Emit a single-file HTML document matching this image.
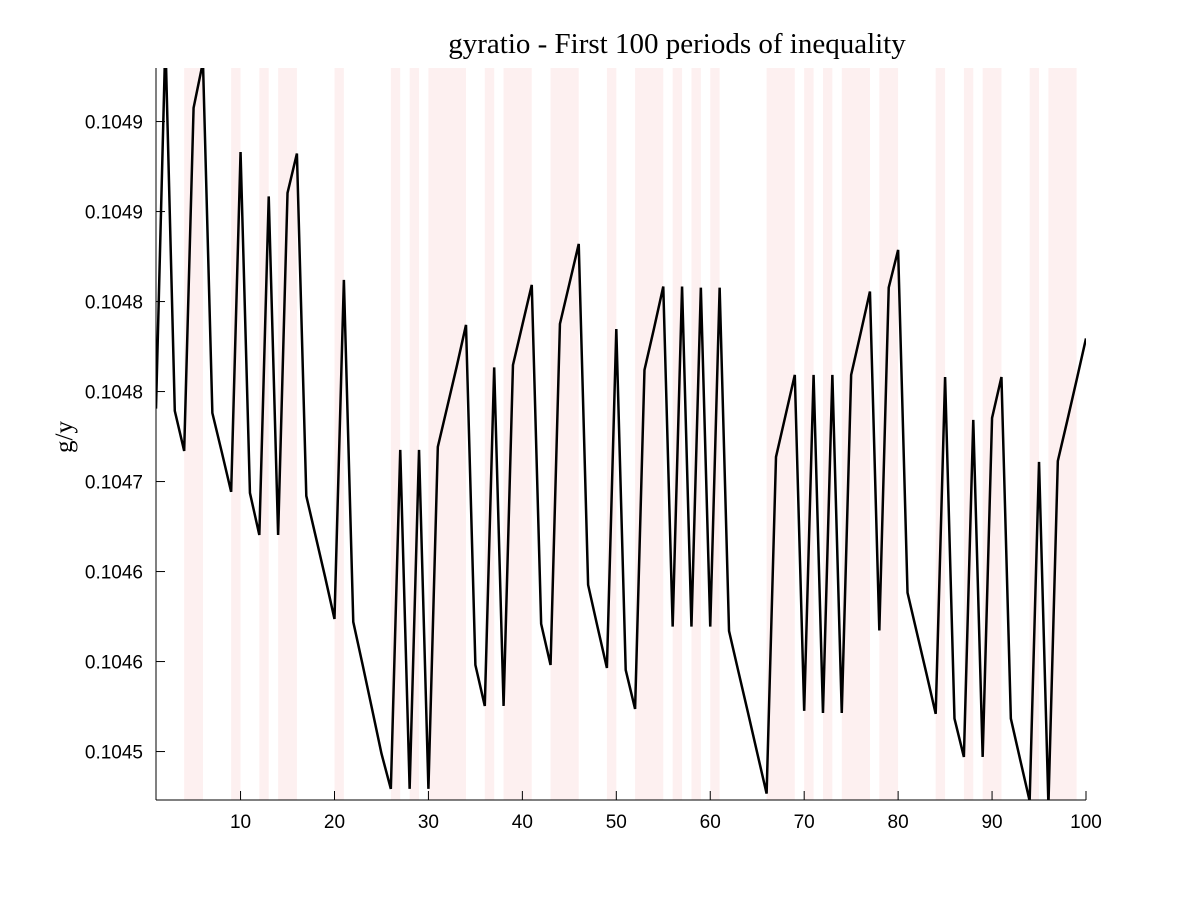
<!DOCTYPE html>
<html><head><meta charset="utf-8"><style>
html,body{margin:0;padding:0;background:#fff;}
svg{display:block;}
</style></head><body>
<svg id="chart" width="1200" height="900" xmlns="http://www.w3.org/2000/svg">
<rect width="1200" height="900" fill="#fff"/>
<defs><clipPath id="plotclip"><rect x="156" y="68" width="930" height="732"/></clipPath></defs>
<g id="bands" clip-path="url(#plotclip)"></g>
<g id="line" clip-path="url(#plotclip)"></g>
<g id="axes"></g>
<text x="677" y="53" text-anchor="middle" font-family="'Liberation Serif', serif" font-size="29" fill="#000">gyratio - First 100 periods of inequality</text>
<text x="0" y="0" transform="translate(72,437) rotate(-90)" text-anchor="middle" font-family="'Liberation Serif', serif" font-size="25" fill="#000">g/y</text>
</svg>
<script>
const periods = Array.from({length:100},(_,i)=>i+1);
const gyValues = [
0.1047486,0.1049944,0.1047471,0.1047204,0.1049491,0.1049797,0.1047457,0.1047197,0.1046931,0.1049197,
0.1046924,0.1046644,0.1048901,0.1046644,0.1048924,0.1049187,0.1046904,0.1046634,0.1046364,0.1046084,
0.1048344,0.1046064,0.1045777,0.1045484,0.1045187,0.1044951,0.1047211,0.1044951,0.1047211,0.1044951,
0.1047231,0.1047497,0.1047764,0.1048044,0.1045777,0.1045504,0.1047761,0.1045504,0.1047777,0.1048044,
0.1048311,0.1046051,0.1045777,0.1048051,0.1048317,0.1048584,0.1046311,0.1046031,0.1045757,0.1048017,
0.1045744,0.1045484,0.1047744,0.1048017,0.1048300,0.1046033,0.1048300,0.1046033,0.1048293,0.1046033,
0.1048293,0.1046004,0.1045733,0.1045464,0.1045191,0.1044920,0.1047164,0.1047437,0.1047711,0.1045471,
0.1047711,0.1045457,0.1047711,0.1045457,0.1047711,0.1047987,0.1048267,0.1046007,0.1048293,0.1048544,
0.1046259,0.1045991,0.1045724,0.1045451,0.1047697,0.1045420,0.1045164,0.1047411,0.1045164,0.1047424,
0.1047697,0.1045420,0.1045144,0.1044871,0.1047131,0.1044844,0.1047137,0.1047404,0.1047677,0.1047954];
const bandStarts = [4,9,12,14,20,26,28,30,36,38,43,49,52,56,58,60,66,70,72,74,78,84,87,89,94,96];
const bandEnds   = [6,10,13,16,21,27,29,34,37,41,46,50,55,57,59,61,69,71,73,77,80,85,88,91,95,99];
const xTicks = [10,20,30,40,50,60,70,80,90,100];
const yTicks = [0.10452,0.10458,0.10464,0.10470,0.10476,0.10482,0.10488,0.10494];
const yTickLabels = ["0.1045","0.1046","0.1046","0.1047","0.1048","0.1048","0.1049","0.1049"];

const NS="http://www.w3.org/2000/svg";
const L=156,R=1086,T=68,B=800;
const xMin=1,xMax=100,yMin=0.1044877,yMax=0.1049757;
const xs=v=>L+(v-xMin)/(xMax-xMin)*(R-L);
const ys=v=>B-(v-yMin)/(yMax-yMin)*(B-T);
function mk(tag,attrs,parent){const e=document.createElementNS(NS,tag);for(const k in attrs)e.setAttribute(k,attrs[k]);parent.appendChild(e);return e;}

const bg=document.getElementById('bands');
bandStarts.forEach((s,i)=>{
  const r=mk('rect',{x:xs(s),y:T,width:xs(bandEnds[i])-xs(s),height:B-T,fill:'#fdf0f0'},bg);
  
  
});
const lg=document.getElementById('line');
const pts=periods.map((p,i)=>xs(p).toFixed(2)+','+ys(gyValues[i]).toFixed(2)).join(' ');
const pl=mk('polyline',{points:pts,fill:'none',stroke:'#000','stroke-width':2.5,'stroke-linejoin':'miter'},lg);



const ax=document.getElementById('axes');
const yl=mk('line',{x1:L,y1:T,x2:L,y2:B,stroke:'#000','stroke-width':1},ax);


const xl=mk('line',{x1:L,y1:B,x2:R,y2:B,stroke:'#000','stroke-width':1},ax);


xTicks.forEach(t=>{
  const x=xs(t);
  const tk=mk('line',{x1:x,y1:B,x2:x,y2:B-9,stroke:'#000','stroke-width':1},ax);
  
  
  const tx=mk('text',{x:x,y:B+28,'text-anchor':'middle','font-family':"'Liberation Sans', sans-serif",'font-size':19,fill:'#000'},ax);
  tx.textContent=t;
  
  
});
yTicks.forEach((t,i)=>{
  const y=ys(t);
  const tk=mk('line',{x1:L,y1:y,x2:L+9,y2:y,stroke:'#000','stroke-width':1},ax);
  
  
  const tx=mk('text',{x:L-13,y:y+7,'text-anchor':'end','font-family':"'Liberation Sans', sans-serif",'font-size':19,fill:'#000'},ax);
  tx.textContent=yTickLabels[i];
  
  
});
</script>
</body></html>
